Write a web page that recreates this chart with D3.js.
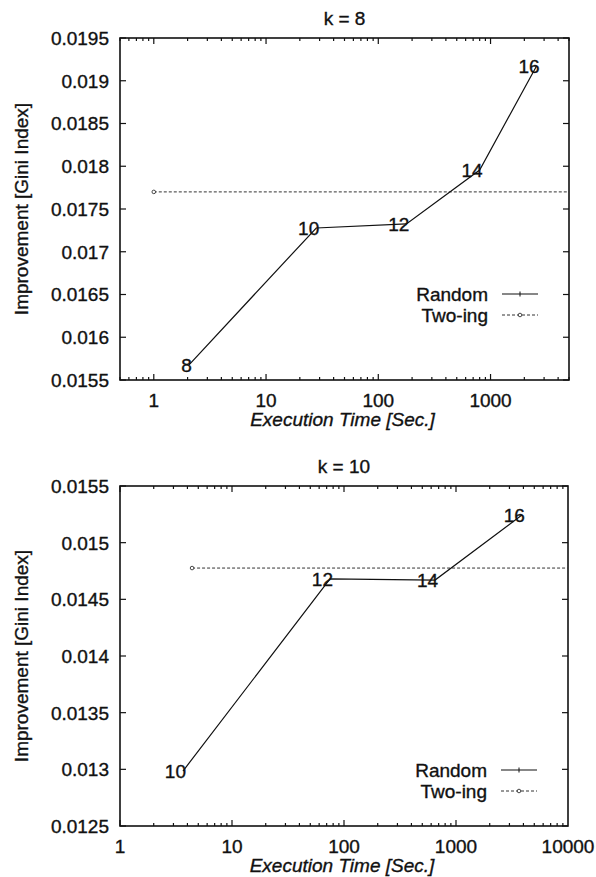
<!DOCTYPE html>
<html>
<head>
<meta charset="utf-8">
<script src="https://cdn.jsdelivr.net/npm/d3@7"></script>
<style>
  html, body { margin: 0; padding: 0; background: #fff; }
  svg text { font-family: "Liberation Sans", Arial, Helvetica, sans-serif; fill: #111; stroke: #111; stroke-width: 0.35px; }
</style>
</head>
<body>
<div id="chart"></div>
<script>
// k = 8 panel
const k8Labels = ['8', '10', '12', '14', '16'];
const k8Times = [2.05, 28, 178, 800, 2570];
const k8Random = [0.015675, 0.017278, 0.017325, 0.017956, 0.019173];
const k8TwoingTime = 1;
const k8TwoingValue = 0.0177;
const k8YTicks = [0.0155, 0.016, 0.0165, 0.017, 0.0175, 0.018, 0.0185, 0.019, 0.0195];
const k8XTicks = [1, 10, 100, 1000];

// k = 10 panel
const k10Labels = ['10', '12', '14', '16'];
const k10Times = [3.65, 75, 650, 3880];
const k10Random = [0.012985, 0.01468, 0.01467, 0.015244];
const k10TwoingTime = 4.4;
const k10TwoingValue = 0.014776;
const k10YTicks = [0.0125, 0.013, 0.0135, 0.014, 0.0145, 0.015, 0.0155];
const k10XTicks = [1, 10, 100, 1000, 10000];

const seriesNames = ['Random', 'Two-ing'];

const W = 596, H = 877;
const svg = d3.select('#chart').append('svg')
  .attr('width', W)
  .attr('height', H);

function drawPanel(opt) {
  const x = d3.scaleLog().domain(opt.xDomain).range([opt.left, opt.right]);
  const y = d3.scaleLinear().domain(opt.yDomain).range([opt.bottom, opt.top]);
  const g = svg.append('g');
  const fs = 19;

  // minor log ticks on top/bottom
  const minor = [];
  const lo = Math.floor(Math.log10(opt.xDomain[0])), hi = Math.ceil(Math.log10(opt.xDomain[1]));
  for (let e = lo; e < hi; e++) {
    for (let m = 1; m <= 9; m++) {
      const v = m * Math.pow(10, e);
      if (v >= opt.xDomain[0] && v <= opt.xDomain[1]) minor.push({v: v, major: m === 1});
    }
  }
  minor.forEach(t => {
    const len = t.major ? 6 : 3;
    const px = x(t.v);
    g.append('line').attr('x1', px).attr('x2', px).attr('y1', opt.bottom).attr('y2', opt.bottom - len)
      .attr('stroke', '#111').attr('stroke-width', 1.2);
    g.append('line').attr('x1', px).attr('x2', px).attr('y1', opt.top).attr('y2', opt.top + len)
      .attr('stroke', '#111').attr('stroke-width', 1.2);
  });

  // y ticks on left/right
  opt.yTicks.forEach(v => {
    const py = y(v);
    g.append('line').attr('x1', opt.left).attr('x2', opt.left + 6).attr('y1', py).attr('y2', py)
      .attr('stroke', '#111').attr('stroke-width', 1.2);
    g.append('line').attr('x1', opt.right).attr('x2', opt.right - 6).attr('y1', py).attr('y2', py)
      .attr('stroke', '#111').attr('stroke-width', 1.2);
    g.append('text').attr('x', opt.left - 11).attr('y', py).attr('dy', '0.36em')
      .attr('text-anchor', 'end').style('font-size', fs + 'px').text(String(v));
  });

  opt.xTicks.forEach(v => {
    g.append('text').attr('x', x(v)).attr('y', opt.bottom + 27)
      .attr('text-anchor', 'middle').style('font-size', fs + 'px').text(String(v));
  });

  // frame
  g.append('rect').attr('x', opt.left).attr('y', opt.top)
    .attr('width', opt.right - opt.left).attr('height', opt.bottom - opt.top)
    .attr('fill', 'none').attr('stroke', '#111').attr('stroke-width', 1.6);

  // titles
  const cx = (opt.left + opt.right) / 2;
  g.append('text').attr('x', cx).attr('y', opt.top - 13).attr('text-anchor', 'middle')
    .style('font-size', fs + 'px').text(opt.title);
  g.append('text').attr('x', cx - 2).attr('y', opt.bottom + 46).attr('text-anchor', 'middle')
    .style('font-size', fs + 'px').style('font-style', 'italic').text('Execution Time [Sec.]');
  const cy = (opt.top + opt.bottom) / 2;
  g.append('text').attr('transform', `translate(28,${cy}) rotate(-90)`).attr('text-anchor', 'middle')
    .style('font-size', fs + 'px').text('Improvement [Gini Index]');

  // Two-ing: horizontal dashed line from its time to the right edge
  g.append('line')
    .attr('x1', x(opt.twoTime)).attr('x2', opt.right)
    .attr('y1', y(opt.twoValue)).attr('y2', y(opt.twoValue))
    .attr('stroke', '#333').attr('stroke-width', 1).attr('stroke-dasharray', '3,2');
  g.append('circle').attr('cx', x(opt.twoTime)).attr('cy', y(opt.twoValue)).attr('r', 1.8)
    .attr('fill', '#fff').attr('stroke', '#333').attr('stroke-width', 0.9);

  // Random line
  const pts = opt.times.map((t, i) => ({t: t, v: opt.values[i], label: opt.labels[i]}));
  const line = d3.line().x(d => x(d.t)).y(d => y(d.v));
  g.append('path').datum(pts).attr('d', line)
    .attr('fill', 'none').attr('stroke', '#111').attr('stroke-width', 1.2);
  g.selectAll('.lbl').data(pts).enter().append('text')
    .attr('x', d => x(d.t) + 3).attr('y', d => y(d.v)).attr('dy', '0.36em')
    .attr('text-anchor', 'end').style('font-size', fs + 'px').text(d => d.label);

  // legend
  const lx = opt.right - 31, ly = opt.legendY;
  seriesNames.forEach((name, i) => {
    const yy = ly + i * 21;
    g.append('text').attr('x', lx - 50).attr('y', yy).attr('dy', '0.36em')
      .attr('text-anchor', 'end').style('font-size', fs + 'px').text(name);
    g.append('line').attr('x1', lx - 36).attr('x2', lx).attr('y1', yy).attr('y2', yy)
      .attr('stroke', i === 0 ? '#111' : '#333').attr('stroke-width', i === 0 ? 1.2 : 1)
      .attr('stroke-dasharray', i === 0 ? null : '3,2');
    if (i === 0) {
      g.append('line').attr('x1', lx - 18).attr('x2', lx - 18).attr('y1', yy - 2.5).attr('y2', yy + 2.5)
        .attr('stroke', '#111').attr('stroke-width', 1);
    } else {
      g.append('circle').attr('cx', lx - 18).attr('cy', yy).attr('r', 1.8)
        .attr('fill', '#fff').attr('stroke', '#333').attr('stroke-width', 0.9);
    }
  });
}

drawPanel({
  title: 'k = 8', left: 120, right: 569, top: 38, bottom: 380,
  xDomain: [0.5, 5000], yDomain: [0.0155, 0.0195],
  yTicks: k8YTicks, xTicks: k8XTicks,
  times: k8Times, values: k8Random, labels: k8Labels,
  twoTime: k8TwoingTime, twoValue: k8TwoingValue, legendY: 294
});

drawPanel({
  title: 'k = 10', left: 120, right: 568, top: 486, bottom: 826,
  xDomain: [1, 10000], yDomain: [0.0125, 0.0155],
  yTicks: k10YTicks, xTicks: k10XTicks,
  times: k10Times, values: k10Random, labels: k10Labels,
  twoTime: k10TwoingTime, twoValue: k10TwoingValue, legendY: 770
});
</script>
</body>
</html>
